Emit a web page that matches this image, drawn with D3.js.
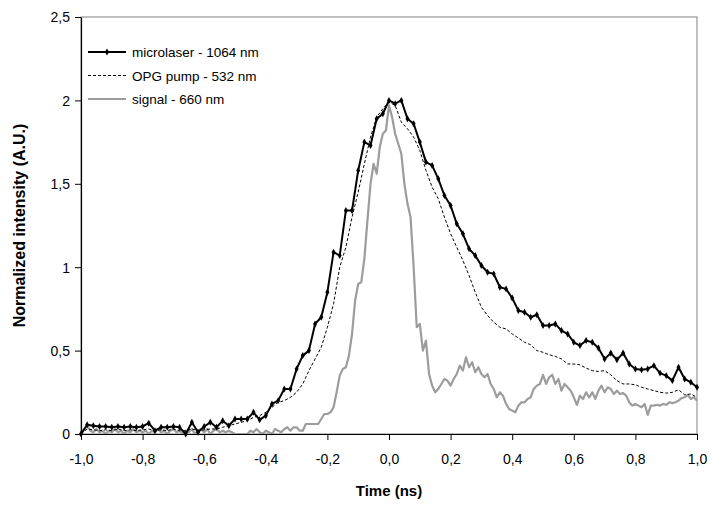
<!DOCTYPE html>
<html>
<head>
<meta charset="utf-8">
<script src="https://cdn.jsdelivr.net/npm/d3@7"></script>
<style>
  html, body { margin: 0; padding: 0; background: #fff; overflow: hidden; }
  svg { display: block; font-family: "Liberation Sans", Arial, sans-serif; }
</style>
</head>
<body>
<svg id="chart" width="712" height="510"></svg>
<script>
// sampling grids (ns)
const laserStart = -1.0, laserStep = 0.02;
const pumpStart = -1.0, pumpStep = 0.02;
const signalStart = -1.0, signalStep = 0.01;

// microlaser - 1064 nm
const microlaser = [
  0.00, 0.055, 0.05, 0.045, 0.045, 0.04, 0.045, 0.04, 0.045, 0.04,
  0.045, 0.065, 0.02, 0.04, 0.04, 0.045, 0.04, 0.00, 0.07, 0.01,
  0.045, 0.07, 0.04, 0.08, 0.05, 0.09, 0.09, 0.09, 0.13, 0.085,
  0.11, 0.18, 0.20, 0.27, 0.27, 0.39, 0.47, 0.50, 0.66, 0.70,
  0.85, 1.09, 1.07, 1.34, 1.34, 1.58, 1.75, 1.73, 1.89, 1.92,
  2.00, 1.98, 2.00, 1.89, 1.86, 1.75, 1.63, 1.61, 1.53, 1.43,
  1.37, 1.26, 1.20, 1.11, 1.07, 1.01, 0.97, 0.96, 0.88, 0.87,
  0.815, 0.74, 0.73, 0.70, 0.715, 0.65, 0.65, 0.66, 0.62, 0.60,
  0.55, 0.53, 0.56, 0.55, 0.515, 0.45, 0.485, 0.445, 0.485, 0.42,
  0.39, 0.385, 0.39, 0.41, 0.365, 0.35, 0.32, 0.40, 0.33, 0.31,
  0.28
];

// OPG pump - 532 nm
const pump = [
  0.00, 0.03, 0.025, 0.02, 0.025, 0.02, 0.03, 0.02, 0.025, 0.02,
  0.025, 0.03, 0.02, 0.025, 0.02, 0.03, 0.02, 0.02, 0.03, 0.02,
  0.025, 0.03, 0.03, 0.04, 0.05, 0.06, 0.07, 0.08, 0.10, 0.11,
  0.13, 0.16, 0.19, 0.20, 0.22, 0.25, 0.30, 0.38, 0.45, 0.52,
  0.64, 0.78, 1.00, 1.12, 1.30, 1.45, 1.62, 1.78, 1.90, 1.95,
  1.99, 1.97, 1.87, 1.83, 1.78, 1.70, 1.58, 1.48, 1.41, 1.30,
  1.20, 1.12, 1.04, 0.95, 0.85, 0.76, 0.71, 0.67, 0.64, 0.63,
  0.60, 0.575, 0.55, 0.535, 0.50, 0.49, 0.475, 0.465, 0.45, 0.42,
  0.42, 0.415, 0.395, 0.38, 0.375, 0.38, 0.355, 0.32, 0.30, 0.30,
  0.295, 0.28, 0.27, 0.26, 0.25, 0.245, 0.25, 0.265, 0.235, 0.24,
  0.22
];

// signal - 660 nm
const signal = [
  0.00, 0.03, 0.05, 0.02, 0.01, 0.03, 0.01, 0.02, 0.00, 0.02,
  0.01, 0.03, 0.01, 0.02, 0.00, 0.02, 0.01, 0.03, 0.01, 0.02,
  0.01, 0.02, 0.00, 0.02, 0.01, 0.03, 0.01, 0.02, 0.00, 0.02,
  0.03, 0.01, 0.02, 0.00, 0.02, 0.01, 0.03, 0.00, 0.02, 0.03,
  0.01, 0.03, 0.00, 0.02, 0.03, 0.01, 0.02, 0.01, 0.02, 0.01,
  0.00, 0.00, 0.00, 0.00, 0.00, 0.02, 0.01, 0.03, 0.01, 0.00,
  0.02, 0.01, 0.00, 0.03, 0.02, 0.01, 0.03, 0.04, 0.02, 0.04,
  0.04, 0.02, 0.02, 0.06, 0.06, 0.06, 0.06, 0.06, 0.09, 0.12,
  0.12, 0.13, 0.16, 0.25, 0.35, 0.39, 0.40, 0.47, 0.60, 0.80,
  0.90, 0.91, 1.05, 1.28, 1.50, 1.62, 1.56, 1.72, 1.80, 1.82,
  1.97, 1.90, 1.80, 1.74, 1.68, 1.50, 1.38, 1.30, 1.00, 0.64,
  0.66, 0.50, 0.56, 0.36, 0.29, 0.25, 0.27, 0.30, 0.33, 0.32,
  0.29, 0.33, 0.36, 0.41, 0.38, 0.46, 0.40, 0.43, 0.37, 0.40,
  0.36, 0.34, 0.36, 0.30, 0.27, 0.22, 0.25, 0.23, 0.18, 0.15,
  0.14, 0.13, 0.17, 0.19, 0.19, 0.21, 0.22, 0.27, 0.29, 0.30,
  0.355, 0.30, 0.34, 0.355, 0.30, 0.33, 0.26, 0.30, 0.28, 0.26,
  0.22, 0.175, 0.23, 0.21, 0.25, 0.22, 0.25, 0.21, 0.26, 0.29,
  0.25, 0.28, 0.27, 0.24, 0.26, 0.24, 0.245, 0.23, 0.19, 0.17,
  0.18, 0.17, 0.16, 0.18, 0.115, 0.17, 0.17, 0.175, 0.17, 0.18,
  0.175, 0.19, 0.185, 0.19, 0.20, 0.215, 0.22, 0.235, 0.21, 0.22,
  0.20
];

const xTicks = [-1.0, -0.8, -0.6, -0.4, -0.2, 0.0, 0.2, 0.4, 0.6, 0.8, 1.0];
const yTicks = [0, 0.5, 1, 1.5, 2, 2.5];
const legendLabels = ["microlaser - 1064 nm", "OPG pump - 532 nm", "signal - 660 nm"];

const margin = { top: 17, right: 15, bottom: 76, left: 81 },
  width = 712,
  height = 510,
  innerWidth = width - margin.left - margin.right,
  innerHeight = height - margin.top - margin.bottom;

const svg = d3.select("#chart");
const g = svg.append("g").attr("transform", `translate(${margin.left},${margin.top})`);

const x = d3.scaleLinear().domain([-1, 1]).range([0, innerWidth]);
const y = d3.scaleLinear().domain([0, 2.5]).range([innerHeight, 0]);

const comma = v => v.toString().replace(".", ",");
const fmtX = v => v.toFixed(1).replace(".", ",");

// plot area border (gray, Excel style)
g.append("rect").attr("x", 0).attr("y", 0).attr("width", innerWidth).attr("height", innerHeight)
  .attr("fill", "none").attr("stroke", "#808080").attr("stroke-width", 1);

const toPts = (arr, start, step) => arr.map((v, i) => ({ t: start + i * step, v: v }));
const laserPts = toPts(microlaser, laserStart, laserStep);
const pumpPts = toPts(pump, pumpStart, pumpStep);
const signalPts = toPts(signal, signalStart, signalStep);

const line = d3.line().x(d => x(d.t)).y(d => y(d.v));

g.append("path").attr("d", line(signalPts)).attr("fill", "none")
  .attr("stroke", "#9c9c9c").attr("stroke-width", 2.2).attr("stroke-linejoin", "round");

g.append("path").attr("d", line(pumpPts)).attr("fill", "none")
  .attr("stroke", "#000").attr("stroke-width", 1).attr("stroke-dasharray", "3,2");

g.append("path").attr("d", line(laserPts)).attr("fill", "none")
  .attr("stroke", "#000").attr("stroke-width", 2).attr("stroke-linejoin", "round");

const diamond = d3.symbol().type(d3.symbolDiamond).size(14);
g.selectAll(".laserMark").data(laserPts).join("path").attr("class", "laserMark")
  .attr("transform", d => `translate(${x(d.t)},${y(d.v)})`)
  .attr("d", diamond).attr("fill", "#000");

// axes
const xAxis = g.append("g").attr("transform", `translate(0,${innerHeight})`)
  .call(d3.axisBottom(x).tickValues(xTicks).tickFormat(fmtX).tickSize(6).tickSizeOuter(0));
const yAxis = g.append("g")
  .call(d3.axisLeft(y).tickValues(yTicks).tickFormat(comma).tickSize(6).tickSizeOuter(0));

[xAxis, yAxis].forEach(a => {
  a.select(".domain").attr("stroke", "#000").attr("stroke-width", 1.2);
  a.selectAll(".tick line").attr("stroke", "#000");
  a.selectAll("text").attr("font-family", "Liberation Sans, Arial, sans-serif")
    .attr("font-size", 14).attr("fill", "#000");
});
xAxis.selectAll("text").attr("y", 30).attr("dy", null);
yAxis.selectAll("text").attr("x", -11).attr("dy", "0.35em");

// axis titles
svg.append("text").attr("x", margin.left + innerWidth / 2).attr("y", 496)
  .attr("text-anchor", "middle").attr("font-size", 15).attr("font-weight", "bold")
  .text("Time (ns)");
svg.append("text").attr("transform", `translate(25,${margin.top + innerHeight / 2}) rotate(-90)`)
  .attr("text-anchor", "middle").attr("font-size", 16).attr("font-weight", "bold")
  .text("Normalized intensity (A.U.)");

// legend
const legend = svg.append("g").attr("transform", "translate(88,52)");
legendLabels.forEach((lbl, i) => {
  const row = legend.append("g").attr("transform", `translate(0,${i * 23.5})`);
  const ln = row.append("line").attr("x1", 0).attr("x2", 38).attr("y1", 0).attr("y2", 0);
  if (i === 0) {
    ln.attr("stroke", "#000").attr("stroke-width", 2);
    row.append("path").attr("transform", "translate(19,0)").attr("d", diamond).attr("fill", "#000");
  } else if (i === 1) {
    ln.attr("stroke", "#000").attr("stroke-width", 1).attr("stroke-dasharray", "3,2");
  } else {
    ln.attr("stroke", "#9c9c9c").attr("stroke-width", 2.2);
  }
  row.append("text").attr("x", 44).attr("y", 5).attr("font-size", 13.5).text(lbl);
});
</script>
</body>
</html>
